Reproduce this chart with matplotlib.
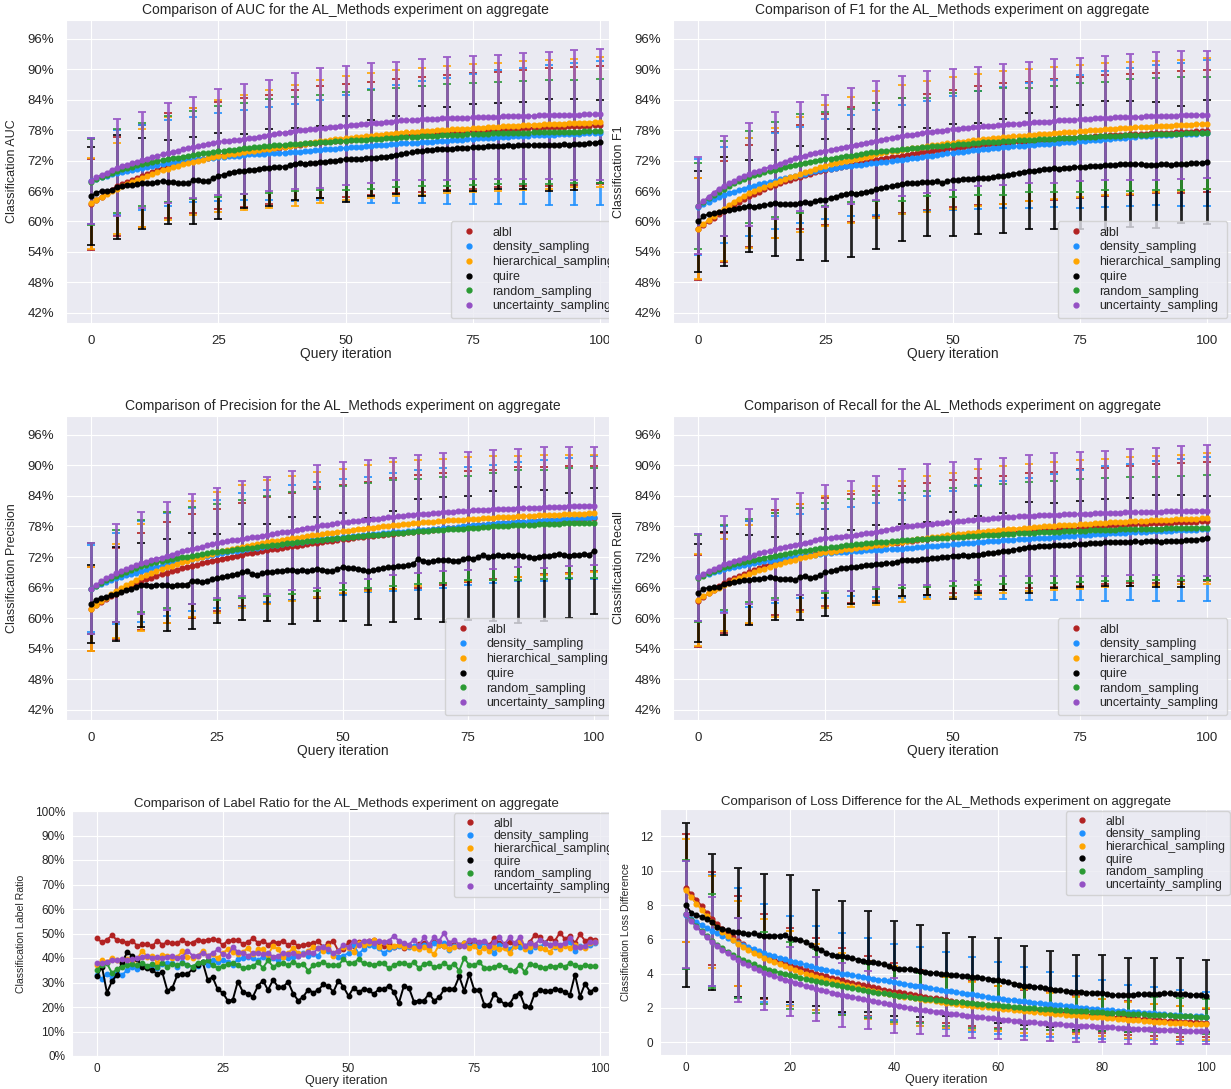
import numpy as np
import matplotlib
matplotlib.use("Agg")
import matplotlib.pyplot as plt
import seaborn as sns
from matplotlib import font_manager
from matplotlib.lines import Line2D
from matplotlib.patches import Rectangle
from matplotlib.ticker import FuncFormatter

METHODS = ["albl", "density_sampling", "hierarchical_sampling", "quire",
           "random_sampling", "uncertainty_sampling"]
COLORS = ["firebrick", "dodgerblue", "orange", "black", "#2a9a33", "#9450c4"]

ITER = list(range(101))
RATIO_ITER = list(range(100))

# ---- AUC (also read identical on the Recall panel) ----
AUC_ALBL = [63.4, 64.2, 64.9, 65.6, 66.3, 66.9, 67.4, 67.8, 68.2, 68.6, 69.0,
            69.4, 69.8, 70.2, 70.6, 71.0, 71.3, 71.5, 71.7, 71.9, 72.0,
            72.2, 72.4, 72.6, 72.8, 73.0, 73.1, 73.2, 73.4, 73.5, 73.6,
            73.7, 73.8, 74.0, 74.1, 74.2, 74.4, 74.5, 74.7, 74.8, 75.0,
            75.1, 75.2, 75.4, 75.5, 75.6, 75.7, 75.8, 75.9, 75.9, 76.0,
            76.1, 76.2, 76.2, 76.3, 76.4, 76.5, 76.6, 76.6, 76.7, 76.8,
            76.9, 77.0, 77.0, 77.1, 77.2, 77.3, 77.3, 77.4, 77.4, 77.5,
            77.6, 77.6, 77.7, 77.7, 77.8, 77.9, 77.9, 78.0, 78.0, 78.1,
            78.2, 78.2, 78.3, 78.3, 78.4, 78.4, 78.5, 78.5, 78.6, 78.6,
            78.6, 78.7, 78.7, 78.8, 78.8, 78.8, 78.9, 78.9, 79.0, 79.0]
AUC_DENSITY = [68.0, 68.4, 68.7, 69.0, 69.3, 69.6, 69.8, 70.0, 70.2, 70.4, 70.6,
               70.8, 71.0, 71.2, 71.3, 71.5, 71.6, 71.8, 71.9, 72.1, 72.2,
               72.3, 72.4, 72.5, 72.6, 72.7, 72.8, 72.9, 73.0, 73.0, 73.1,
               73.2, 73.2, 73.3, 73.3, 73.4, 73.4, 73.5, 73.5, 73.6, 73.6,
               73.7, 73.8, 73.9, 74.0, 74.1, 74.2, 74.2, 74.3, 74.4, 74.5,
               74.6, 74.7, 74.7, 74.8, 74.9, 75.0, 75.1, 75.1, 75.2, 75.3,
               75.4, 75.4, 75.5, 75.5, 75.6, 75.7, 75.7, 75.8, 75.8, 75.9,
               76.0, 76.1, 76.1, 76.2, 76.3, 76.4, 76.4, 76.5, 76.5, 76.6,
               76.7, 76.7, 76.8, 76.8, 76.9, 76.9, 77.0, 77.0, 77.1, 77.1,
               77.1, 77.2, 77.2, 77.3, 77.3, 77.3, 77.4, 77.4, 77.5, 77.5]
AUC_HIER = [63.6, 64.3, 64.9, 65.5, 66.0, 66.5, 66.9, 67.4, 67.8, 68.2, 68.6,
            69.0, 69.4, 69.7, 70.1, 70.4, 70.7, 71.0, 71.3, 71.5, 71.8,
            72.0, 72.2, 72.5, 72.7, 72.9, 73.0, 73.2, 73.3, 73.5, 73.6,
            73.8, 73.9, 74.0, 74.2, 74.3, 74.4, 74.6, 74.7, 74.9, 75.0,
            75.2, 75.3, 75.5, 75.6, 75.8, 75.9, 76.0, 76.2, 76.3, 76.4,
            76.5, 76.6, 76.7, 76.8, 76.9, 77.0, 77.1, 77.2, 77.3, 77.4,
            77.5, 77.6, 77.6, 77.7, 77.8, 77.9, 77.9, 78.0, 78.0, 78.1,
            78.2, 78.2, 78.3, 78.3, 78.4, 78.5, 78.5, 78.6, 78.6, 78.7,
            78.8, 78.8, 78.9, 78.9, 79.0, 79.0, 79.1, 79.1, 79.2, 79.2,
            79.3, 79.3, 79.3, 79.4, 79.4, 79.5, 79.5, 79.5, 79.6, 79.6]
AUC_QUIRE = [65.0, 65.7, 66.0, 66.1, 66.2, 66.8, 67.0, 67.1, 67.2, 67.4, 67.5,
             67.6, 67.6, 67.8, 68.0, 67.8, 67.7, 67.6, 67.6, 67.5, 68.1,
             68.2, 67.9, 68.0, 68.5, 69.0, 69.2, 69.5, 69.8, 69.9, 70.0,
             70.1, 70.2, 70.4, 70.5, 70.6, 70.7, 70.8, 70.8, 71.1, 71.4,
             71.5, 71.4, 71.5, 71.6, 71.7, 71.8, 71.9, 72.0, 72.1, 72.3,
             72.3, 72.4, 72.3, 72.5, 72.5, 72.6, 72.7, 72.8, 73.0, 73.1,
             73.2, 73.4, 73.6, 73.8, 73.9, 74.0, 74.1, 74.2, 74.2, 74.3,
             74.3, 74.4, 74.4, 74.5, 74.6, 74.6, 74.7, 74.8, 74.8, 74.9,
             74.9, 75.0, 74.9, 75.0, 75.0, 75.1, 75.0, 75.1, 75.1, 75.1,
             75.0, 75.1, 75.2, 75.1, 75.2, 75.3, 75.3, 75.4, 75.5, 75.7]
AUC_RANDOM = [67.8, 68.3, 68.8, 69.2, 69.6, 70.0, 70.3, 70.6, 70.8, 71.1, 71.3,
              71.5, 71.7, 71.9, 72.1, 72.3, 72.5, 72.6, 72.8, 72.9, 73.1,
              73.2, 73.4, 73.5, 73.7, 73.8, 73.9, 74.0, 74.1, 74.3, 74.4,
              74.5, 74.6, 74.7, 74.8, 74.9, 75.0, 75.0, 75.1, 75.2, 75.3,
              75.3, 75.4, 75.5, 75.5, 75.6, 75.7, 75.7, 75.8, 75.8, 75.9,
              76.0, 76.0, 76.1, 76.1, 76.2, 76.3, 76.3, 76.4, 76.4, 76.5,
              76.6, 76.6, 76.7, 76.7, 76.8, 76.8, 76.9, 76.9, 77.0, 77.0,
              77.0, 77.1, 77.1, 77.2, 77.2, 77.2, 77.3, 77.3, 77.4, 77.4,
              77.4, 77.4, 77.5, 77.5, 77.5, 77.5, 77.6, 77.6, 77.6, 77.6,
              77.6, 77.7, 77.7, 77.7, 77.7, 77.7, 77.8, 77.8, 77.8, 77.8]
AUC_UNCERT = [68.0, 68.7, 69.2, 69.6, 70.1, 70.6, 70.9, 71.2, 71.5, 71.8, 72.1,
              72.4, 72.7, 72.9, 73.2, 73.5, 73.7, 73.9, 74.2, 74.4, 74.6,
              74.8, 75.0, 75.3, 75.5, 75.7, 75.8, 75.9, 76.0, 76.1, 76.2,
              76.4, 76.5, 76.7, 76.8, 77.0, 77.2, 77.4, 77.5, 77.7, 77.9,
              78.0, 78.1, 78.2, 78.3, 78.4, 78.5, 78.6, 78.7, 78.8, 78.9,
              79.0, 79.1, 79.2, 79.3, 79.4, 79.5, 79.5, 79.6, 79.7, 79.8,
              79.9, 79.9, 80.0, 80.0, 80.1, 80.1, 80.2, 80.2, 80.3, 80.3,
              80.3, 80.4, 80.4, 80.4, 80.5, 80.5, 80.5, 80.6, 80.6, 80.6,
              80.7, 80.7, 80.7, 80.8, 80.8, 80.8, 80.8, 80.9, 80.9, 80.9,
              80.9, 81.0, 81.0, 81.0, 81.0, 81.0, 81.1, 81.1, 81.1, 81.1]

# std every 5 iterations (0, 5, ..., 100)
AUC_ALBL_SD = [9.0, 9.8, 10.1, 10.3, 10.4, 10.6, 10.7, 10.8, 10.9, 11.0, 11.1,
               11.1, 11.2, 11.3, 11.3, 11.4, 11.4, 11.5, 11.6, 11.6, 11.7]
AUC_DENSITY_SD = [8.5, 8.4, 8.4, 8.5, 8.3, 8.7, 8.8, 9.2, 9.6, 9.9, 10.4,
                  11.2, 11.6, 12.0, 12.4, 12.8, 13.2, 13.4, 13.8, 14.0, 14.2]
AUC_HIER_SD = [9.0, 9.0, 9.6, 10.2, 10.6, 11.0, 11.4, 11.7, 11.9, 12.1, 12.2,
               12.3, 12.4, 12.5, 12.5, 12.6, 12.6, 12.7, 12.7, 12.7, 12.8]
AUC_QUIRE_SD = [9.6, 10.2, 8.9, 8.2, 8.5, 8.5, 7.3, 7.6, 7.1, 7.1, 8.5,
                7.5, 7.6, 8.9, 8.3, 8.5, 8.5, 8.6, 9.0, 9.0, 8.2]
AUC_RANDOM_SD = [8.5, 8.3, 8.2, 8.4, 8.6, 8.9, 9.0, 9.2, 9.3, 9.4, 9.6,
                 9.7, 9.8, 9.9, 10.0, 10.1, 10.1, 10.2, 10.2, 10.2, 10.3]
AUC_UNCERT_SD = [8.5, 9.5, 9.4, 9.9, 10.0, 10.4, 10.8, 10.9, 11.4, 11.8, 11.7,
                 11.9, 11.6, 11.9, 12.1, 12.2, 12.3, 12.4, 12.5, 12.8, 12.9]

# ---- F1 ----
F1_ALBL = [58.5, 59.3, 60.0, 60.7, 61.4, 62.0, 62.6, 63.2, 63.8, 64.4, 65.0,
           65.5, 65.9, 66.4, 66.8, 67.2, 67.5, 67.9, 68.2, 68.5, 68.8,
           69.1, 69.4, 69.7, 70.0, 70.2, 70.4, 70.6, 70.8, 71.0, 71.2,
           71.4, 71.6, 71.8, 72.0, 72.2, 72.4, 72.5, 72.7, 72.8, 73.0,
           73.1, 73.3, 73.4, 73.6, 73.7, 73.8, 74.0, 74.1, 74.3, 74.4,
           74.5, 74.6, 74.8, 74.9, 75.0, 75.1, 75.2, 75.2, 75.3, 75.4,
           75.5, 75.6, 75.6, 75.7, 75.8, 75.9, 76.0, 76.0, 76.1, 76.2,
           76.3, 76.4, 76.4, 76.5, 76.6, 76.7, 76.7, 76.8, 76.8, 76.9,
           77.0, 77.0, 77.1, 77.1, 77.2, 77.2, 77.3, 77.3, 77.4, 77.4,
           77.4, 77.5, 77.5, 77.6, 77.6, 77.7, 77.7, 77.8, 77.8, 77.9]
F1_DENSITY = [62.8, 63.4, 63.9, 64.4, 64.8, 65.2, 65.6, 65.9, 66.2, 66.5, 66.8,
              67.0, 67.3, 67.5, 67.8, 68.0, 68.3, 68.5, 68.7, 69.0, 69.2,
              69.4, 69.7, 69.9, 70.1, 70.3, 70.4, 70.6, 70.7, 70.9, 71.0,
              71.1, 71.2, 71.4, 71.5, 71.6, 71.7, 71.8, 72.0, 72.1, 72.2,
              72.3, 72.5, 72.6, 72.8, 72.9, 73.0, 73.1, 73.3, 73.4, 73.5,
              73.6, 73.7, 73.9, 74.0, 74.1, 74.2, 74.3, 74.4, 74.5, 74.6,
              74.7, 74.8, 74.8, 74.9, 75.0, 75.1, 75.2, 75.2, 75.3, 75.4,
              75.5, 75.6, 75.6, 75.7, 75.8, 75.9, 76.0, 76.0, 76.1, 76.2,
              76.3, 76.4, 76.4, 76.5, 76.6, 76.7, 76.8, 76.8, 76.9, 77.0,
              77.0, 77.1, 77.1, 77.2, 77.2, 77.3, 77.3, 77.3, 77.4, 77.4]
F1_HIER = [58.6, 59.5, 60.3, 61.1, 61.8, 62.5, 63.2, 63.9, 64.5, 65.1, 65.6,
           66.0, 66.4, 66.8, 67.2, 67.6, 68.0, 68.3, 68.7, 69.0, 69.3,
           69.7, 70.0, 70.4, 70.7, 71.0, 71.3, 71.5, 71.8, 72.0, 72.2,
           72.4, 72.6, 72.8, 73.0, 73.2, 73.4, 73.6, 73.8, 73.9, 74.1,
           74.2, 74.4, 74.5, 74.7, 74.8, 75.0, 75.1, 75.2, 75.4, 75.5,
           75.6, 75.7, 75.9, 76.0, 76.1, 76.2, 76.3, 76.4, 76.5, 76.6,
           76.7, 76.8, 76.8, 76.9, 77.0, 77.1, 77.2, 77.2, 77.3, 77.4,
           77.5, 77.6, 77.6, 77.7, 77.8, 77.9, 78.0, 78.0, 78.1, 78.2,
           78.2, 78.3, 78.4, 78.4, 78.5, 78.6, 78.6, 78.7, 78.7, 78.8,
           78.8, 78.9, 78.9, 79.0, 79.0, 79.1, 79.1, 79.2, 79.2, 79.3]
F1_QUIRE = [60.0, 61.0, 61.5, 61.6, 61.8, 62.0, 62.3, 62.4, 62.6, 62.8, 63.0,
            62.9, 63.1, 63.2, 63.4, 63.6, 63.5, 63.4, 63.5, 63.4, 63.6,
            63.8, 63.7, 64.0, 64.2, 64.3, 64.6, 64.9, 65.2, 65.4, 65.6,
            65.5, 65.7, 65.8, 66.0, 66.4, 66.6, 66.8, 67.0, 67.2, 67.4,
            67.5, 67.5, 67.6, 67.7, 67.8, 67.7, 67.9, 67.6, 67.9, 68.2,
            68.1, 68.3, 68.3, 68.4, 68.5, 68.5, 68.6, 68.8, 68.9, 69.0,
            69.2, 69.4, 69.6, 69.8, 70.0, 70.0, 70.1, 70.3, 70.4, 70.5,
            70.4, 70.6, 70.6, 70.7, 70.8, 70.8, 70.9, 71.0, 71.0, 71.1,
            71.1, 71.2, 71.3, 71.4, 71.4, 71.3, 71.3, 71.2, 71.2, 71.2,
            71.3, 71.3, 71.2, 71.3, 71.3, 71.4, 71.5, 71.5, 71.6, 71.8]
F1_RANDOM = [63.0, 63.8, 64.6, 65.3, 65.9, 66.5, 67.0, 67.5, 67.9, 68.4, 68.8,
             69.1, 69.4, 69.7, 69.9, 70.2, 70.4, 70.7, 70.9, 71.2, 71.4,
             71.6, 71.8, 72.0, 72.1, 72.3, 72.4, 72.6, 72.7, 72.9, 73.0,
             73.1, 73.3, 73.4, 73.6, 73.7, 73.8, 73.9, 74.0, 74.1, 74.2,
             74.3, 74.4, 74.5, 74.6, 74.7, 74.8, 74.9, 74.9, 75.0, 75.1,
             75.2, 75.3, 75.3, 75.4, 75.5, 75.6, 75.6, 75.7, 75.7, 75.8,
             75.9, 75.9, 76.0, 76.0, 76.1, 76.1, 76.2, 76.2, 76.3, 76.3,
             76.4, 76.4, 76.5, 76.5, 76.6, 76.6, 76.7, 76.7, 76.8, 76.8,
             76.8, 76.9, 76.9, 77.0, 77.0, 77.0, 77.1, 77.1, 77.2, 77.2,
             77.2, 77.2, 77.3, 77.3, 77.3, 77.4, 77.4, 77.4, 77.5, 77.5]
F1_UNCERT = [63.1, 64.0, 64.9, 65.7, 66.4, 67.0, 67.5, 68.0, 68.5, 68.9, 69.3,
             69.7, 70.0, 70.4, 70.7, 71.0, 71.4, 71.8, 72.1, 72.5, 72.8,
             73.0, 73.2, 73.5, 73.7, 73.9, 74.1, 74.3, 74.5, 74.7, 74.9,
             75.1, 75.3, 75.5, 75.7, 75.9, 76.1, 76.3, 76.5, 76.6, 76.8,
             77.0, 77.1, 77.3, 77.4, 77.6, 77.7, 77.8, 77.9, 78.1, 78.2,
             78.3, 78.4, 78.5, 78.6, 78.7, 78.8, 78.9, 78.9, 79.0, 79.1,
             79.2, 79.3, 79.3, 79.4, 79.5, 79.6, 79.6, 79.7, 79.7, 79.8,
             79.9, 79.9, 80.0, 80.0, 80.1, 80.2, 80.2, 80.3, 80.3, 80.4,
             80.4, 80.5, 80.5, 80.5, 80.6, 80.6, 80.6, 80.7, 80.7, 80.7,
             80.8, 80.8, 80.8, 80.8, 80.9, 80.9, 80.9, 81.0, 81.0, 81.0]

F1_ALBL_SD = [10.0, 10.0, 10.0, 10.5, 10.3, 10.9, 11.3, 11.2, 11.3, 11.5, 11.6,
              11.7, 11.9, 11.7, 11.9, 11.9, 11.9, 11.9, 11.8, 12.0, 12.0]
F1_DENSITY_SD = [9.5, 9.5, 9.6, 9.5, 9.4, 9.8, 10.0, 10.3, 10.7, 10.8, 11.2,
                 11.6, 11.9, 12.3, 12.5, 13.1, 13.4, 13.6, 13.8, 14.1, 14.4]
F1_HIER_SD = [9.9, 10.2, 10.8, 10.9, 11.3, 11.9, 12.4, 12.6, 12.7, 12.9, 13.0,
              13.0, 13.1, 13.0, 13.0, 13.0, 13.0, 13.0, 12.9, 12.9, 12.9]
F1_QUIRE_SD = [10.0, 10.8, 9.1, 10.4, 11.2, 12.0, 12.6, 11.8, 11.2, 10.7, 11.0,
               11.0, 11.2, 11.4, 12.0, 12.2, 12.7, 12.4, 12.4, 11.5, 12.2]
F1_RANDOM_SD = [8.5, 9.3, 9.0, 9.4, 9.7, 9.3, 9.2, 9.7, 10.2, 9.6, 10.3,
                10.2, 10.5, 10.3, 10.4, 10.7, 10.6, 11.0, 11.0, 11.1, 11.0]
F1_UNCERT_SD = [9.6, 9.9, 10.2, 10.5, 10.8, 11.0, 11.5, 11.7, 11.8, 12.0, 11.9,
                11.8, 11.9, 12.0, 12.2, 12.2, 12.2, 12.4, 12.6, 12.6, 12.5]

# ---- Precision ----
PREC_ALBL = [61.8, 62.5, 63.1, 63.7, 64.3, 64.8, 65.3, 65.8, 66.3, 66.8, 67.2,
             67.6, 67.9, 68.2, 68.6, 68.9, 69.2, 69.5, 69.8, 70.0, 70.3,
             70.5, 70.8, 71.0, 71.3, 71.5, 71.7, 71.9, 72.1, 72.3, 72.5,
             72.7, 72.8, 73.0, 73.1, 73.3, 73.5, 73.6, 73.8, 73.9, 74.1,
             74.2, 74.4, 74.5, 74.7, 74.8, 74.9, 75.1, 75.2, 75.4, 75.5,
             75.6, 75.7, 75.9, 76.0, 76.1, 76.2, 76.3, 76.4, 76.5, 76.6,
             76.7, 76.8, 76.9, 77.0, 77.1, 77.2, 77.3, 77.4, 77.5, 77.6,
             77.7, 77.8, 77.8, 77.9, 78.0, 78.1, 78.2, 78.2, 78.3, 78.4,
             78.5, 78.6, 78.6, 78.7, 78.8, 78.9, 78.9, 79.0, 79.0, 79.1,
             79.2, 79.2, 79.3, 79.3, 79.4, 79.4, 79.5, 79.5, 79.6, 79.6]
PREC_DENSITY = [65.8, 66.3, 66.7, 67.1, 67.5, 67.8, 68.1, 68.4, 68.7, 68.9, 69.2,
                69.5, 69.8, 70.1, 70.3, 70.6, 70.8, 71.0, 71.2, 71.4, 71.6,
                71.8, 72.0, 72.2, 72.4, 72.6, 72.8, 72.9, 73.1, 73.2, 73.4,
                73.5, 73.7, 73.8, 74.0, 74.1, 74.3, 74.4, 74.5, 74.7, 74.8,
                74.9, 75.0, 75.2, 75.3, 75.4, 75.5, 75.6, 75.7, 75.8, 75.9,
                76.0, 76.1, 76.2, 76.3, 76.4, 76.5, 76.6, 76.7, 76.8, 76.9,
                77.0, 77.0, 77.1, 77.2, 77.3, 77.4, 77.4, 77.5, 77.6, 77.7,
                77.8, 77.8, 77.9, 78.0, 78.1, 78.2, 78.2, 78.3, 78.4, 78.5,
                78.6, 78.6, 78.7, 78.8, 78.9, 78.9, 79.0, 79.1, 79.1, 79.2,
                79.3, 79.3, 79.4, 79.4, 79.5, 79.6, 79.6, 79.7, 79.7, 79.8]
PREC_HIER = [61.8, 62.6, 63.3, 64.0, 64.7, 65.3, 65.9, 66.5, 67.0, 67.5, 68.0,
             68.4, 68.8, 69.2, 69.6, 70.0, 70.3, 70.7, 71.0, 71.3, 71.6,
             71.9, 72.1, 72.4, 72.6, 72.9, 73.1, 73.3, 73.6, 73.8, 74.0,
             74.2, 74.4, 74.5, 74.7, 74.9, 75.1, 75.2, 75.4, 75.5, 75.7,
             75.8, 76.0, 76.1, 76.3, 76.4, 76.5, 76.7, 76.8, 77.0, 77.1,
             77.2, 77.3, 77.5, 77.6, 77.7, 77.8, 77.9, 78.0, 78.1, 78.2,
             78.3, 78.4, 78.5, 78.6, 78.7, 78.8, 78.9, 78.9, 79.0, 79.1,
             79.2, 79.2, 79.3, 79.3, 79.4, 79.5, 79.5, 79.6, 79.6, 79.7,
             79.8, 79.8, 79.9, 79.9, 80.0, 80.0, 80.1, 80.1, 80.2, 80.2,
             80.2, 80.3, 80.3, 80.4, 80.4, 80.4, 80.5, 80.5, 80.6, 80.6]
PREC_QUIRE = [62.8, 63.6, 64.0, 64.2, 64.5, 64.8, 65.2, 65.5, 65.8, 66.2, 66.5,
              66.6, 66.4, 66.5, 66.6, 66.5, 66.4, 66.5, 66.6, 66.6, 67.3,
              67.2, 67.1, 67.3, 67.6, 67.8, 68.0, 68.3, 68.5, 68.7, 69.0,
              69.2, 68.6, 68.5, 68.8, 69.0, 69.1, 69.2, 69.3, 69.5, 69.4,
              69.3, 69.5, 69.2, 69.5, 69.6, 69.5, 69.3, 69.2, 69.6, 70.0,
              69.9, 69.8, 69.7, 69.5, 69.2, 69.4, 69.6, 69.8, 70.0, 70.1,
              70.3, 70.2, 70.4, 70.6, 71.6, 71.3, 71.0, 71.2, 71.4, 71.5,
              71.4, 71.3, 71.3, 71.6, 71.8, 71.7, 72.0, 72.4, 72.1, 72.2,
              72.4, 72.3, 72.5, 72.3, 72.4, 72.2, 72.0, 71.9, 72.1, 72.3,
              72.2, 72.5, 72.6, 72.4, 72.3, 72.5, 72.4, 72.6, 72.5, 73.2]
PREC_RANDOM = [65.8, 66.4, 66.9, 67.4, 67.9, 68.3, 68.7, 69.1, 69.5, 69.9, 70.2,
               70.5, 70.8, 71.0, 71.2, 71.4, 71.6, 71.8, 72.0, 72.1, 72.3,
               72.4, 72.6, 72.7, 72.9, 73.0, 73.1, 73.2, 73.4, 73.5, 73.6,
               73.7, 73.8, 74.0, 74.1, 74.2, 74.3, 74.4, 74.6, 74.7, 74.8,
               74.9, 75.0, 75.1, 75.2, 75.3, 75.4, 75.5, 75.6, 75.7, 75.8,
               75.9, 76.0, 76.1, 76.2, 76.3, 76.4, 76.4, 76.5, 76.6, 76.7,
               76.8, 76.8, 76.9, 77.0, 77.1, 77.1, 77.2, 77.3, 77.3, 77.4,
               77.5, 77.5, 77.6, 77.6, 77.7, 77.8, 77.8, 77.9, 77.9, 78.0,
               78.0, 78.1, 78.1, 78.2, 78.2, 78.2, 78.3, 78.3, 78.4, 78.4,
               78.4, 78.5, 78.5, 78.6, 78.6, 78.6, 78.7, 78.7, 78.7, 78.7]
PREC_UNCERT = [65.8, 66.5, 67.2, 67.8, 68.3, 68.8, 69.2, 69.6, 70.0, 70.4, 70.8,
               71.1, 71.4, 71.7, 71.9, 72.2, 72.5, 72.8, 73.1, 73.3, 73.6,
               73.8, 74.0, 74.3, 74.5, 74.7, 74.9, 75.1, 75.3, 75.4, 75.6,
               75.7, 75.9, 76.0, 76.2, 76.3, 76.5, 76.7, 76.9, 77.0, 77.2,
               77.4, 77.5, 77.7, 77.8, 78.0, 78.2, 78.3, 78.5, 78.6, 78.8,
               78.9, 79.0, 79.1, 79.2, 79.3, 79.4, 79.5, 79.7, 79.8, 79.9,
               80.0, 80.1, 80.2, 80.3, 80.4, 80.5, 80.5, 80.6, 80.7, 80.8,
               80.8, 80.9, 81.0, 81.0, 81.1, 81.2, 81.2, 81.3, 81.3, 81.4,
               81.4, 81.5, 81.5, 81.5, 81.6, 81.6, 81.7, 81.7, 81.7, 81.8,
               81.8, 81.9, 81.9, 81.9, 82.0, 82.0, 82.0, 82.1, 82.1, 82.1]

PREC_ALBL_SD = [8.2, 8.9, 9.5, 9.9, 10.2, 10.0, 10.2, 10.4, 10.5, 10.9, 10.7,
                10.6, 10.9, 11.1, 11.0, 10.9, 10.7, 10.8, 10.5, 10.5, 10.3]
PREC_DENSITY_SD = [8.5, 8.9, 9.9, 10.1, 10.1, 10.7, 11.2, 11.0, 11.3, 11.3, 11.4,
                   11.3, 11.6, 11.8, 11.7, 11.6, 11.5, 11.7, 11.9, 11.9, 12.1]
PREC_HIER_SD = [8.2, 9.2, 10.5, 10.9, 11.4, 11.9, 12.1, 12.2, 12.3, 12.3, 12.2,
                12.4, 12.4, 12.3, 12.1, 12.2, 12.2, 11.9, 11.8, 11.7, 11.5]
PREC_QUIRE_SD = [7.6, 9.2, 8.2, 9.0, 9.5, 8.7, 9.4, 9.5, 10.5, 10.2, 10.6,
                 10.5, 10.9, 11.8, 12.2, 12.1, 12.7, 13.3, 12.8, 12.2, 12.3]
PREC_RANDOM_SD = [8.9, 9.1, 9.0, 9.5, 9.6, 9.5, 9.6, 9.8, 10.0, 10.0, 10.2,
                  10.3, 10.4, 10.3, 10.4, 10.3, 10.6, 10.8, 10.7, 10.8, 10.8]
PREC_UNCERT_SD = [8.9, 9.6, 10.0, 10.6, 10.8, 10.8, 11.3, 11.5, 11.7, 12.1, 11.8,
                  11.7, 11.5, 11.6, 11.6, 11.6, 11.7, 11.6, 11.9, 11.7, 11.6]

# ---- Label ratio (iterations 0..99) ----
RATIO_ALBL = [48.0, 46.4, 47.5, 49.2, 47.3, 47.1, 46.2, 47.1, 45.0, 45.6,
              45.6, 44.8, 47.1, 45.5, 46.5, 46.0, 46.3, 47.3, 46.0, 46.3,
              47.5, 46.8, 47.5, 47.6, 47.2, 45.3, 47.0, 47.3, 47.2, 45.8,
              46.5, 48.0, 46.3, 47.0, 45.5, 46.5, 46.3, 47.0, 45.2, 46.5,
              44.8, 45.3, 45.8, 46.0, 46.8, 44.3, 46.2, 46.8, 42.8, 43.5,
              46.5, 45.0, 46.5, 45.3, 47.0, 47.2, 45.5, 45.0, 46.3, 44.5,
              45.2, 44.0, 45.0, 44.5, 45.8, 46.3, 45.0, 46.5, 45.2, 45.0,
              46.0, 45.5, 44.8, 46.0, 45.5, 46.8, 45.5, 46.5, 45.2, 48.2,
              46.0, 45.8, 46.5, 45.0, 45.8, 44.0, 46.5, 49.3, 48.5, 46.3,
              48.3, 47.0, 50.3, 47.8, 49.0, 46.0, 49.8, 47.0, 47.8, 47.5]
RATIO_DENSITY = [33.0, 31.5, 33.5, 32.0, 33.8, 33.0, 35.0, 36.2, 35.5, 36.8,
                 36.5, 37.0, 36.0, 37.5, 37.8, 38.0, 36.5, 38.2, 37.0, 36.5,
                 36.8, 38.2, 37.0, 39.0, 38.5, 39.0, 38.5, 37.2, 39.5, 40.0,
                 40.5, 39.8, 39.0, 40.5, 41.0, 40.0, 39.0, 40.5, 40.0, 40.5,
                 40.8, 42.0, 41.0, 41.5, 41.0, 44.5, 43.0, 41.5, 40.5, 41.0,
                 42.0, 45.5, 41.8, 43.5, 45.5, 45.0, 44.0, 42.0, 43.5, 44.5,
                 45.0, 45.0, 44.5, 44.8, 45.0, 45.5, 44.5, 46.0, 45.5, 46.0,
                 43.2, 45.0, 45.5, 46.2, 45.0, 45.5, 44.8, 46.5, 44.0, 42.2,
                 45.5, 45.0, 43.5, 45.2, 44.5, 45.0, 43.0, 44.5, 44.5, 46.0,
                 45.5, 44.5, 45.0, 45.5, 46.5, 43.0, 45.0, 44.5, 45.5, 46.0]
RATIO_HIER = [37.0, 39.0, 38.2, 40.2, 39.0, 38.5, 39.5, 38.2, 39.5, 43.0,
              40.5, 41.0, 37.8, 41.2, 41.0, 39.8, 40.5, 42.8, 40.5, 40.2,
              40.8, 43.0, 41.0, 41.5, 39.8, 42.0, 43.5, 42.5, 41.5, 42.5,
              44.0, 41.5, 43.5, 43.8, 41.2, 45.0, 43.5, 40.5, 42.0, 44.0,
              42.0, 41.5, 43.0, 44.5, 44.0, 43.0, 45.0, 41.0, 43.0, 44.5,
              44.0, 42.5, 46.0, 45.5, 46.0, 47.5, 44.5, 46.5, 44.5, 44.8,
              45.5, 44.5, 45.0, 44.0, 43.5, 44.5, 43.2, 41.5, 45.5, 45.0,
              43.8, 44.5, 45.5, 46.0, 44.2, 45.0, 42.5, 44.2, 43.0, 44.5,
              43.5, 44.0, 42.0, 44.8, 47.0, 43.8, 44.5, 45.5, 44.0, 43.5,
              42.5, 44.8, 43.5, 45.0, 44.0, 45.5, 44.5, 44.0, 46.0, 46.5]
RATIO_QUIRE = [32.5, 36.5, 25.8, 30.6, 33.2, 38.1, 42.3, 41.0, 39.4, 36.5,
               35.8, 35.0, 33.5, 34.1, 26.7, 27.9, 33.1, 33.5, 33.5, 35.4,
               37.2, 38.4, 31.2, 32.1, 27.2, 25.8, 22.6, 22.9, 30.4, 26.2,
               25.5, 24.2, 28.6, 30.8, 26.9, 31.1, 28.2, 28.2, 30.2, 25.5,
               22.6, 24.2, 27.1, 25.9, 26.9, 29.2, 28.4, 26.2, 30.8, 28.2,
               24.5, 27.8, 26.2, 27.2, 26.9, 25.3, 27.2, 27.2, 28.6, 26.2,
               21.6, 28.6, 27.8, 22.2, 22.6, 22.6, 25.5, 22.6, 23.9, 27.2,
               27.2, 27.5, 32.5, 26.5, 33.5, 26.9, 26.9, 20.9, 20.9, 25.5,
               22.9, 21.2, 21.2, 24.5, 25.9, 20.5, 19.8, 25.5, 26.9, 26.5,
               26.5, 27.2, 26.9, 26.2, 24.9, 33.2, 24.2, 29.5, 26.2, 27.5]
RATIO_RANDOM = [35.0, 37.0, 37.8, 33.8, 35.5, 36.5, 37.2, 37.5, 37.0, 38.0,
                36.8, 37.5, 36.3, 37.8, 36.5, 37.5, 37.0, 38.0, 37.2, 36.5,
                38.0, 38.5, 39.0, 37.0, 36.0, 36.8, 37.5, 37.8, 37.2, 35.8,
                36.3, 36.8, 38.2, 36.0, 39.0, 36.5, 37.5, 38.0, 37.0, 38.5,
                37.2, 37.5, 34.8, 37.0, 37.5, 38.5, 37.0, 37.0, 37.0, 39.5,
                37.8, 38.0, 39.5, 37.8, 37.5, 37.2, 37.8, 37.8, 35.8, 37.0,
                38.0, 38.0, 37.2, 38.2, 35.8, 37.5, 38.0, 36.2, 36.8, 37.8,
                36.5, 37.5, 34.8, 40.0, 37.0, 37.3, 38.2, 36.0, 35.8, 36.5,
                37.2, 36.5, 35.0, 34.8, 37.2, 34.3, 37.5, 37.0, 36.5, 35.8,
                36.8, 36.5, 37.0, 36.5, 37.8, 37.2, 36.5, 37.0, 36.8, 36.8]
RATIO_UNCERT = [37.8, 38.0, 38.5, 39.0, 39.0, 39.5, 39.0, 39.5, 39.8, 40.5,
                41.0, 40.0, 40.5, 40.0, 40.5, 41.0, 40.0, 40.5, 43.0, 41.0,
                41.0, 42.0, 41.0, 42.0, 43.5, 41.5, 41.0, 44.5, 42.5, 42.0,
                41.0, 42.0, 42.0, 41.5, 42.0, 40.5, 41.0, 42.0, 41.5, 42.0,
                41.0, 41.5, 42.5, 42.0, 44.0, 44.5, 43.5, 42.0, 43.0, 45.5,
                44.5, 47.0, 45.5, 47.0, 47.0, 46.0, 47.0, 46.5, 47.0, 49.0,
                47.0, 46.0, 45.5, 47.5, 45.0, 48.5, 45.5, 48.5, 47.0, 50.3,
                46.0, 47.5, 45.5, 45.0, 47.5, 47.5, 46.5, 47.0, 45.0, 46.5,
                48.5, 45.5, 48.5, 46.0, 48.5, 45.0, 46.0, 45.5, 47.5, 46.0,
                45.5, 46.0, 45.5, 46.0, 48.0, 44.5, 44.5, 45.0, 46.5, 46.5]

# ---- Loss difference ----
LOSS_ALBL = [9.00, 8.65, 8.30, 7.95, 7.55, 7.20, 6.90, 6.62, 6.36, 6.12, 5.90,
             5.71, 5.52, 5.34, 5.17, 5.00, 4.89, 4.79, 4.69, 4.60, 4.50,
             4.40, 4.30, 4.20, 4.10, 4.00, 3.92, 3.84, 3.76, 3.68, 3.60,
             3.53, 3.46, 3.39, 3.32, 3.25, 3.19, 3.13, 3.07, 3.01, 2.95,
             2.90, 2.85, 2.80, 2.75, 2.70, 2.65, 2.60, 2.55, 2.50, 2.45,
             2.41, 2.37, 2.33, 2.29, 2.25, 2.21, 2.18, 2.14, 2.11, 2.07,
             2.04, 2.01, 1.98, 1.95, 1.92, 1.90, 1.87, 1.85, 1.82, 1.80,
             1.77, 1.74, 1.72, 1.69, 1.66, 1.63, 1.61, 1.58, 1.56, 1.53,
             1.51, 1.49, 1.46, 1.44, 1.42, 1.40, 1.37, 1.35, 1.32, 1.30,
             1.28, 1.26, 1.24, 1.22, 1.20, 1.19, 1.17, 1.16, 1.14, 1.13]
LOSS_DENSITY = [7.40, 7.20, 7.02, 6.84, 6.67, 6.50, 6.36, 6.22, 6.08, 5.94, 5.80,
                5.68, 5.56, 5.44, 5.32, 5.20, 5.11, 5.02, 4.93, 4.84, 4.75,
                4.67, 4.59, 4.51, 4.43, 4.35, 4.28, 4.21, 4.14, 4.07, 4.00,
                3.95, 3.90, 3.85, 3.80, 3.75, 3.70, 3.65, 3.60, 3.55, 3.50,
                3.45, 3.40, 3.35, 3.30, 3.25, 3.20, 3.15, 3.10, 3.05, 3.00,
                2.96, 2.91, 2.87, 2.82, 2.78, 2.73, 2.69, 2.64, 2.60, 2.55,
                2.52, 2.48, 2.45, 2.41, 2.38, 2.34, 2.31, 2.27, 2.24, 2.20,
                2.17, 2.14, 2.11, 2.08, 2.05, 2.02, 1.99, 1.96, 1.93, 1.90,
                1.88, 1.85, 1.83, 1.80, 1.78, 1.76, 1.74, 1.72, 1.70, 1.68,
                1.66, 1.64, 1.61, 1.59, 1.57, 1.55, 1.53, 1.52, 1.50, 1.48]
LOSS_HIER = [8.85, 8.45, 8.08, 7.72, 7.35, 7.00, 6.72, 6.45, 6.20, 5.97, 5.75,
             5.57, 5.39, 5.22, 5.06, 4.90, 4.78, 4.66, 4.54, 4.42, 4.30,
             4.20, 4.10, 4.00, 3.90, 3.80, 3.72, 3.64, 3.56, 3.48, 3.40,
             3.33, 3.26, 3.19, 3.12, 3.05, 2.99, 2.93, 2.87, 2.81, 2.75,
             2.70, 2.66, 2.61, 2.57, 2.52, 2.48, 2.43, 2.39, 2.34, 2.30,
             2.26, 2.23, 2.19, 2.16, 2.12, 2.09, 2.06, 2.03, 2.00, 1.97,
             1.94, 1.91, 1.88, 1.85, 1.82, 1.79, 1.76, 1.74, 1.71, 1.68,
             1.66, 1.63, 1.61, 1.58, 1.56, 1.54, 1.51, 1.49, 1.46, 1.44,
             1.42, 1.39, 1.37, 1.34, 1.32, 1.30, 1.27, 1.25, 1.22, 1.20,
             1.18, 1.16, 1.14, 1.12, 1.10, 1.09, 1.08, 1.07, 1.06, 1.05]
LOSS_QUIRE = [8.00, 7.55, 7.42, 7.30, 7.18, 7.00, 6.72, 6.62, 6.52, 6.45, 6.40,
              6.36, 6.30, 6.36, 6.26, 6.20, 6.18, 6.20, 6.22, 6.25, 6.05,
              6.02, 5.95, 5.84, 5.68, 5.50, 5.36, 5.22, 5.10, 5.04, 5.00,
              4.95, 4.88, 4.82, 4.76, 4.70, 4.65, 4.60, 4.55, 4.42, 4.30,
              4.28, 4.27, 4.25, 4.20, 4.15, 4.10, 4.06, 4.02, 3.98, 3.95,
              3.93, 3.90, 3.87, 3.84, 3.80, 3.78, 3.74, 3.70, 3.65, 3.60,
              3.54, 3.48, 3.42, 3.36, 3.30, 3.27, 3.23, 3.20, 3.15, 3.10,
              3.06, 3.02, 2.98, 2.94, 2.90, 2.90, 2.89, 2.88, 2.86, 2.85,
              2.80, 2.75, 2.74, 2.76, 2.75, 2.77, 2.78, 2.78, 2.79, 2.80,
              2.82, 2.85, 2.84, 2.82, 2.80, 2.79, 2.77, 2.75, 2.73, 2.70]
LOSS_RANDOM = [7.45, 7.10, 6.78, 6.47, 6.18, 5.90, 5.68, 5.47, 5.27, 5.08, 4.90,
               4.77, 4.65, 4.53, 4.41, 4.30, 4.22, 4.14, 4.06, 3.98, 3.90,
               3.83, 3.76, 3.69, 3.62, 3.55, 3.49, 3.43, 3.37, 3.31, 3.25,
               3.20, 3.14, 3.09, 3.03, 2.98, 2.93, 2.89, 2.84, 2.80, 2.75,
               2.71, 2.67, 2.64, 2.60, 2.56, 2.53, 2.50, 2.46, 2.43, 2.40,
               2.37, 2.35, 2.32, 2.30, 2.27, 2.24, 2.22, 2.19, 2.17, 2.14,
               2.12, 2.09, 2.07, 2.04, 2.02, 2.00, 1.98, 1.95, 1.93, 1.91,
               1.89, 1.87, 1.86, 1.84, 1.82, 1.80, 1.79, 1.77, 1.76, 1.74,
               1.72, 1.71, 1.69, 1.68, 1.66, 1.65, 1.64, 1.62, 1.61, 1.60,
               1.59, 1.57, 1.56, 1.54, 1.53, 1.52, 1.51, 1.49, 1.48, 1.47]
LOSS_UNCERT = [7.45, 7.05, 6.72, 6.41, 6.12, 5.85, 5.62, 5.40, 5.19, 4.99, 4.80,
               4.64, 4.49, 4.34, 4.19, 4.05, 3.95, 3.85, 3.75, 3.65, 3.55,
               3.46, 3.37, 3.28, 3.19, 3.10, 3.03, 2.96, 2.89, 2.82, 2.75,
               2.69, 2.63, 2.57, 2.51, 2.45, 2.39, 2.33, 2.27, 2.21, 2.15,
               2.10, 2.05, 2.00, 1.95, 1.90, 1.86, 1.82, 1.78, 1.74, 1.70,
               1.66, 1.62, 1.58, 1.54, 1.50, 1.47, 1.44, 1.41, 1.38, 1.35,
               1.32, 1.29, 1.26, 1.23, 1.20, 1.17, 1.15, 1.12, 1.10, 1.07,
               1.05, 1.03, 1.01, 0.99, 0.97, 0.96, 0.94, 0.93, 0.91, 0.90,
               0.88, 0.86, 0.84, 0.82, 0.80, 0.79, 0.78, 0.77, 0.76, 0.75,
               0.73, 0.72, 0.70, 0.69, 0.67, 0.66, 0.65, 0.64, 0.64, 0.63]

LOSS_ALBL_SD = [3.15, 2.7, 2.6, 2.5, 2.15, 2.1, 1.9, 1.75, 1.65, 1.5, 1.35,
                1.3, 1.22, 1.15, 1.12, 1.05, 1.0, 0.98, 0.92, 0.88, 0.82]
LOSS_DENSITY_SD = [3.15, 3.25, 3.2, 2.85, 2.6, 2.45, 2.35, 2.3, 2.2, 2.3, 2.25,
                   2.2, 2.1, 2.0, 1.9, 1.8, 1.72, 1.58, 1.55, 1.48, 1.43]
LOSS_HIER_SD = [3.0, 2.7, 2.5, 2.3, 2.2, 1.9, 1.8, 1.7, 1.68, 1.55, 1.5,
                1.4, 1.3, 1.28, 1.2, 1.1, 1.07, 1.05, 1.02, 0.98, 0.93]
LOSS_QUIRE_SD = [4.8, 3.97, 3.77, 3.62, 3.72, 3.4, 3.22, 2.97, 2.75, 2.67, 2.4,
                 2.34, 2.47, 2.3, 2.21, 2.17, 2.22, 2.17, 2.12, 2.1, 2.1]
LOSS_RANDOM_SD = [3.17, 2.72, 2.35, 2.1, 1.95, 1.87, 1.68, 1.57, 1.57, 1.45, 1.47,
                  1.42, 1.35, 1.28, 1.2, 1.15, 1.1, 1.05, 1.02, 1.02, 1.02]
LOSS_UNCERT_SD = [3.1, 2.6, 2.45, 2.2, 2.0, 1.85, 1.85, 1.7, 1.6, 1.45, 1.35,
                  1.25, 1.15, 1.1, 1.0, 0.95, 0.92, 0.88, 0.85, 0.78, 0.75]

AUC_MEANS = [AUC_ALBL, AUC_DENSITY, AUC_HIER, AUC_QUIRE, AUC_RANDOM, AUC_UNCERT]
AUC_SDS = [AUC_ALBL_SD, AUC_DENSITY_SD, AUC_HIER_SD, AUC_QUIRE_SD, AUC_RANDOM_SD, AUC_UNCERT_SD]
F1_MEANS = [F1_ALBL, F1_DENSITY, F1_HIER, F1_QUIRE, F1_RANDOM, F1_UNCERT]
F1_SDS = [F1_ALBL_SD, F1_DENSITY_SD, F1_HIER_SD, F1_QUIRE_SD, F1_RANDOM_SD, F1_UNCERT_SD]
PREC_MEANS = [PREC_ALBL, PREC_DENSITY, PREC_HIER, PREC_QUIRE, PREC_RANDOM, PREC_UNCERT]
PREC_SDS = [PREC_ALBL_SD, PREC_DENSITY_SD, PREC_HIER_SD, PREC_QUIRE_SD, PREC_RANDOM_SD, PREC_UNCERT_SD]
RECALL_MEANS = AUC_MEANS  # recall panel shows the same curves as AUC
RECALL_SDS = AUC_SDS
RATIOS = [RATIO_ALBL, RATIO_DENSITY, RATIO_HIER, RATIO_QUIRE, RATIO_RANDOM, RATIO_UNCERT]
LOSS_MEANS = [LOSS_ALBL, LOSS_DENSITY, LOSS_HIER, LOSS_QUIRE, LOSS_RANDOM, LOSS_UNCERT]
LOSS_SDS = [LOSS_ALBL_SD, LOSS_DENSITY_SD, LOSS_HIER_SD, LOSS_QUIRE_SD, LOSS_RANDOM_SD, LOSS_UNCERT_SD]

sns.set_style("darkgrid")
plt.rcParams["font.family"] = ["Liberation Sans", "DejaVu Sans"]

# the y labels are drawn narrow in the reference
installed = {f.name for f in font_manager.fontManager.ttflist}
narrow = next((n for n in ["Liberation Sans Narrow", "Arial Narrow"] if n in installed), None)
if narrow:
    YL_FONT, YL_BIG, YL_SMALL = [narrow, "Liberation Sans"], 10.5, 9.0
else:
    YL_FONT, YL_BIG, YL_SMALL = ["Liberation Sans", "DejaVu Sans"], 9.0, 7.6

W, H = 1231, 1089
fig = plt.figure(figsize=(W / 100, H / 100), dpi=100)
fig.patch.set_facecolor("white")


def add_ax(left, top, right, bottom, z):
    return fig.add_axes([left / W, 1 - bottom / H, (right - left) / W, (bottom - top) / H], zorder=z)


pct = FuncFormatter(lambda v, p: f"{v:.0f}%")
handles = [Line2D([], [], ls="none", marker="o", color=c, ms=3.5) for c in COLORS]


def style(ax, title, ylabel, small=False):
    if small:
        ax.set_title(title, fontsize=9.5, pad=3)
        ax.set_xlabel("Query iteration", fontsize=9, labelpad=0)
        ax.set_ylabel(ylabel, fontsize=YL_SMALL, family=YL_FONT, labelpad=6)
        ax.tick_params(labelsize=8.5, pad=1.5)
    else:
        ax.set_title(title, fontsize=10, pad=4)
        ax.set_xlabel("Query iteration", fontsize=10, labelpad=0)
        ax.set_ylabel(ylabel, fontsize=YL_BIG, family=YL_FONT, labelpad=7)
        ax.tick_params(labelsize=9.5, pad=5)


def add_legend(ax, loc, small=False):
    if small:
        ax.legend(handles, METHODS, loc=loc, fontsize=8.8, labelspacing=0.05,
                  handletextpad=0.9, borderpad=0.35, borderaxespad=0.2)
    else:
        ax.legend(handles, METHODS, loc=loc, fontsize=9, labelspacing=0.22,
                  handletextpad=0.9, borderpad=0.45, borderaxespad=0.4)


def metric_panel(ax, means, sds):
    for m, s, c, lab in zip(means, sds, COLORS, METHODS):
        yerr = np.zeros(len(m))
        yerr[::5] = s
        eb = ax.errorbar(ITER, m, yerr=yerr, errorevery=5, fmt="-o", color=c, ecolor=c,
                         ms=3.4, lw=1.3, elinewidth=2.0, capsize=3, capthick=1.4, label=lab)
        for cap in eb[1]:
            cap.set_alpha(0.85)
        for bar in eb[2]:
            bar.set_alpha(0.85)
    ax.set_xlim(-5, 105)


ax1 = add_ax(66, 20, 625, 323, 0)
ax2 = add_ax(673, 20, 1232, 323, 2)
ax3 = add_ax(66, 416, 619, 720, 0)
ax4 = add_ax(673, 416, 1232, 720, 2)
ax5 = add_ax(72, 811, 620, 1056, 0)
ax6 = add_ax(660, 809, 1232, 1055, 2)

for ax, means, sds, name in [(ax1, AUC_MEANS, AUC_SDS, "AUC"), (ax2, F1_MEANS, F1_SDS, "F1"),
                             (ax3, PREC_MEANS, PREC_SDS, "Precision"),
                             (ax4, RECALL_MEANS, RECALL_SDS, "Recall")]:
    metric_panel(ax, means, sds)
    ax.set_ylim(40.0, 99.7)
    ax.set_yticks(range(42, 97, 6))
    ax.yaxis.set_major_formatter(pct)
    ax.set_xticks([0, 25, 50, 75, 100])
    style(ax, f"Comparison of {name} for the AL_Methods experiment on aggregate",
          f"Classification {name}")
    add_legend(ax, "lower right")

# label ratio
for r, c, lab in zip(RATIOS, COLORS, METHODS):
    ax5.plot(RATIO_ITER, r, "-o", color=c, ms=3.2, lw=1.4, label=lab)
ax5.set_xlim(-4.95, 103.95)
ax5.set_ylim(0, 100)
ax5.set_yticks(range(0, 101, 10))
ax5.set_xticks([0, 25, 50, 75, 100])
ax5.yaxis.set_major_formatter(pct)
style(ax5, "Comparison of Label Ratio for the AL_Methods experiment on aggregate",
      "Classification Label Ratio", small=True)
add_legend(ax5, "upper right", small=True)

# loss difference
metric_panel(ax6, LOSS_MEANS, LOSS_SDS)
ax6.set_ylim(-0.75, 13.6)
ax6.set_yticks(range(0, 13, 2))
ax6.set_xticks(range(0, 101, 20))
style(ax6, "Comparison of Loss Difference for the AL_Methods experiment on aggregate",
      "Classification Loss Difference", small=True)
add_legend(ax6, "upper right", small=True)

# the left column is cut off where the right column starts
fig.add_artist(Rectangle((609 / W, 0), 58 / W, 1, transform=fig.transFigure,
                         facecolor="white", edgecolor="none", zorder=1))

fig.savefig("out.png", dpi=100, facecolor="white")
